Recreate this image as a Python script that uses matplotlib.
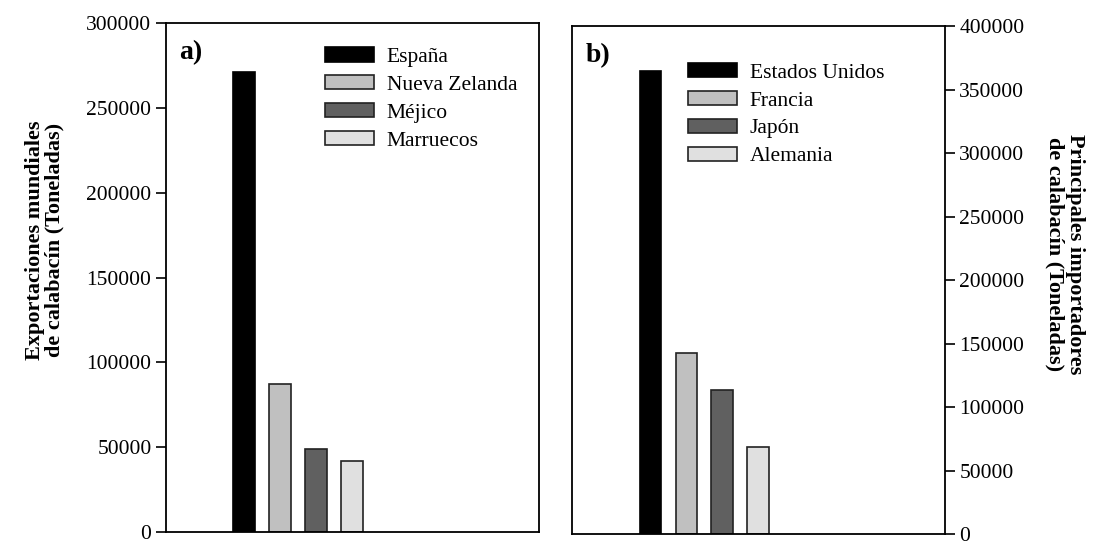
import matplotlib.pyplot as plt

# exportadores (panel a) e importadores (panel b), toneladas
exportadores = ['España', 'Nueva Zelanda', 'Méjico', 'Marruecos']
exportaciones = [271000, 87000, 49000, 42000]

importadores = ['Estados Unidos', 'Francia', 'Japón', 'Alemania']
importaciones = [365000, 143000, 114000, 69000]

colores = ['#000000', '#c0c0c0', '#606060', '#e0e0e0']

plt.rcParams['font.family'] = 'Liberation Serif'
plt.rcParams['font.size'] = 15.5

fig = plt.figure(figsize=(10.96, 5.41), dpi=100)
ax1 = fig.add_axes([0.1515, 0.0166, 0.3403, 0.9403])
ax2 = fig.add_axes([0.5222, 0.0124, 0.3398, 0.939])

ley = dict(loc='upper left', frameon=False, handlelength=2.28, handleheight=0.65,
           labelspacing=0.38, handletextpad=0.6, borderaxespad=0, fontsize=15.5)


def dibujar(ax, nombres, valores, ymax, letra):
    for i, (n, v, c) in enumerate(zip(nombres, valores, colores)):
        ax.bar(i, v, width=0.6, color=c, edgecolor='black' if i == 0 else '#222222',
               linewidth=1.2, label=n, zorder=2)
    ax.set_xlim(-2.17, 8.19)
    ax.set_ylim(0, ymax)
    ax.set_xticks([])
    for s in ax.spines.values():
        s.set_linewidth(1.3)
    ax.tick_params(axis='y', direction='out', length=7, width=1.2, labelsize=15.5)
    ax.text(0.035, 0.942, letra, transform=ax.transAxes, fontsize=20,
            fontweight='bold', va='center', ha='left')


dibujar(ax1, exportadores, exportaciones, 300000, 'a)')
ax1.set_yticks(range(0, 300001, 50000))
ax1.set_ylabel('Exportaciones mundiales\nde calabacín (Toneladas)', fontsize=16,
               fontweight='bold', linespacing=1.0)
ax1.yaxis.set_label_coords(-0.271, 0.574)
ax1.legend(bbox_to_anchor=(0.402, 0.97), **ley)

dibujar(ax2, importadores, importaciones, 400000, 'b)')
ax2.set_yticks(range(0, 400001, 50000))
ax2.yaxis.tick_right()
ax2.yaxis.set_label_position('right')
ax2.set_ylabel('Principales importadores\nde calabacín (Toneladas)', fontsize=16,
               fontweight='bold', rotation=270, linespacing=1.0)
ax2.yaxis.set_label_coords(1.376, 0.552)
ax2.legend(bbox_to_anchor=(0.287, 0.945), **ley)

fig.savefig('out.png', dpi=100)
